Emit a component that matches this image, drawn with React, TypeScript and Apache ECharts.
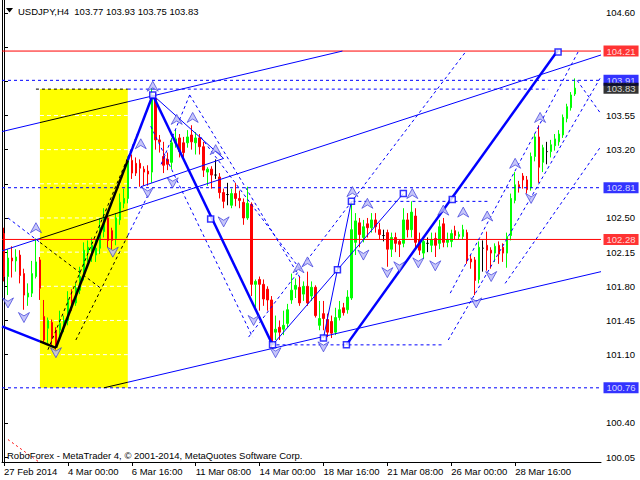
import React, { useEffect, useRef } from "react";
import * as echarts from "echarts";

// ---------- data ----------
const tickLabels = ["27 Feb 2014", "4 Mar 00:00", "6 Mar 16:00", "11 Mar 08:00", "14 Mar 00:00", "18 Mar 16:00", "21 Mar 08:00", "26 Mar 00:00", "28 Mar 16:00"];
const priceTicks = [100.05, 100.4, 100.75, 101.1, 101.45, 101.8, 102.15, 102.5, 102.85, 103.2, 103.55, 103.9, 104.25, 104.6];
// tick labels that the price boxes cover
const hiddenTickLabels = [100.75, 102.85, 103.9, 104.25];
const SLOTS = 150;
const LABEL_EVERY = 16;

// [open, high, low, close]
const candles: number[][] = [
  [102.34, 102.40, 101.85, 101.90], [101.90, 102.18, 101.71, 102.09], [102.09, 102.21, 101.89, 102.06], [102.06, 102.18, 101.95, 102.10],
  [102.12, 102.17, 101.83, 101.91], [101.93, 101.98, 101.56, 101.71], [101.69, 101.83, 101.60, 101.73], [101.73, 102.06, 101.69, 101.93],
  [101.90, 102.29, 101.88, 102.05], [102.07, 102.10, 101.66, 101.78], [101.49, 101.66, 101.22, 101.25], [101.37, 101.48, 101.22, 101.45],
  [101.43, 101.46, 101.20, 101.27], [101.35, 101.38, 101.15, 101.18], [101.35, 101.55, 101.28, 101.42], [101.38, 101.50, 101.33, 101.45],
  [101.45, 101.75, 101.40, 101.66], [101.66, 101.77, 101.55, 101.60], [101.63, 101.83, 101.60, 101.78], [101.76, 102.00, 101.72, 101.90],
  [101.90, 102.25, 101.86, 102.17], [102.15, 102.27, 102.05, 102.20], [102.12, 102.30, 102.05, 102.22], [102.12, 102.28, 102.05, 102.19],
  [102.19, 102.50, 102.13, 102.40], [102.36, 102.60, 102.30, 102.51], [102.50, 102.56, 102.20, 102.27], [102.37, 102.40, 102.18, 102.27],
  [102.29, 102.55, 102.22, 102.50], [102.48, 102.75, 102.43, 102.66], [102.65, 102.80, 102.60, 102.70], [102.70, 103.13, 102.65, 103.09],
  [103.09, 103.15, 102.90, 102.96], [103.06, 103.12, 102.93, 102.96], [103.06, 103.10, 102.82, 103.01], [103.00, 103.03, 102.83, 102.97],
  [102.98, 103.04, 102.83, 102.95], [102.97, 103.83, 102.86, 103.73], [103.72, 103.78, 103.20, 103.30], [103.30, 103.35, 103.17, 103.28],
  [103.13, 103.28, 102.96, 103.04], [103.10, 103.17, 102.99, 103.05], [103.07, 103.32, 103.00, 103.27], [103.27, 103.40, 103.22, 103.31],
  [103.32, 103.36, 103.12, 103.18], [103.27, 103.33, 103.10, 103.17], [103.27, 103.40, 103.22, 103.33], [103.35, 103.45, 103.20, 103.28],
  [103.27, 103.38, 103.15, 103.32], [103.32, 103.36, 103.15, 103.23], [103.23, 103.28, 102.92, 102.99], [102.97, 103.02, 102.83, 103.00],
  [103.00, 103.03, 102.80, 102.94], [102.94, 103.10, 102.90, 102.94], [102.92, 102.96, 102.70, 102.76], [102.76, 102.80, 102.60, 102.67],
  [102.74, 102.86, 102.63, 102.74], [102.63, 102.80, 102.60, 102.75], [102.75, 102.86, 102.62, 102.70], [102.70, 102.78, 102.60, 102.68],
  [102.66, 102.70, 102.43, 102.50], [102.50, 102.82, 102.48, 102.65], [102.64, 102.66, 101.70, 101.82], [101.82, 101.87, 101.58, 101.85],
  [101.87, 101.90, 101.55, 101.82], [101.82, 101.87, 101.60, 101.67], [101.77, 101.80, 101.55, 101.66], [101.66, 101.70, 101.17, 101.23],
  [101.33, 101.50, 101.25, 101.36], [101.38, 101.45, 101.25, 101.33], [101.36, 101.55, 101.30, 101.40], [101.42, 101.62, 101.38, 101.56],
  [101.66, 101.93, 101.62, 101.76], [101.77, 101.88, 101.68, 101.81], [101.79, 101.90, 101.60, 101.63], [101.72, 101.85, 101.65, 101.80],
  [101.80, 101.95, 101.60, 101.63], [101.70, 101.85, 101.65, 101.79], [101.79, 101.81, 101.48, 101.50], [101.40, 101.65, 101.35, 101.47],
  [101.52, 101.65, 101.35, 101.47], [101.46, 101.52, 101.28, 101.33], [101.44, 101.50, 101.27, 101.32], [101.33, 101.58, 101.30, 101.48],
  [101.48, 101.65, 101.45, 101.56], [101.58, 101.63, 101.50, 101.53], [101.56, 101.76, 101.52, 101.69], [101.68, 102.67, 101.66, 102.38],
  [102.25, 102.55, 102.12, 102.47], [102.45, 102.50, 102.20, 102.33], [102.30, 102.48, 102.25, 102.41], [102.44, 102.50, 102.30, 102.40],
  [102.40, 102.55, 102.35, 102.48], [102.48, 102.55, 102.35, 102.41], [102.38, 102.45, 102.28, 102.33], [102.32, 102.38, 102.26, 102.32],
  [102.35, 102.38, 102.00, 102.18], [102.18, 102.35, 102.10, 102.30], [102.30, 102.35, 102.15, 102.24], [102.26, 102.28, 102.10, 102.23],
  [102.24, 102.60, 102.20, 102.48], [102.48, 102.55, 102.30, 102.38], [102.38, 102.67, 102.30, 102.56], [102.52, 102.60, 102.18, 102.25],
  [102.28, 102.35, 102.12, 102.17], [102.14, 102.30, 102.08, 102.26], [102.24, 102.30, 102.15, 102.24], [102.22, 102.35, 102.15, 102.28],
  [102.29, 102.35, 102.10, 102.22], [102.24, 102.48, 102.18, 102.41], [102.44, 102.50, 102.20, 102.25], [102.25, 102.35, 102.20, 102.28],
  [102.26, 102.38, 102.20, 102.34], [102.37, 102.42, 102.28, 102.32], [102.31, 102.36, 102.28, 102.33], [102.31, 102.43, 102.28, 102.38],
  [102.35, 102.38, 102.03, 102.07], [102.08, 102.12, 101.98, 102.05], [102.07, 102.10, 101.71, 101.86], [101.87, 102.26, 101.83, 102.20],
  [102.19, 102.27, 101.95, 102.19], [102.22, 102.36, 101.96, 102.17], [102.17, 102.20, 101.98, 102.14], [102.14, 102.24, 102.05, 102.21],
  [102.22, 102.26, 102.03, 102.13], [102.20, 102.24, 102.05, 102.14], [102.14, 102.35, 101.99, 102.31], [102.32, 102.75, 102.27, 102.70],
  [102.68, 102.97, 102.65, 102.84], [102.84, 102.88, 102.76, 102.81], [102.93, 102.96, 102.80, 102.89], [102.89, 102.93, 102.75, 102.79],
  [102.81, 103.17, 102.78, 103.13], [103.13, 103.36, 103.08, 103.33], [103.33, 103.45, 102.86, 103.02], [103.07, 103.25, 102.97, 103.22],
  [103.18, 103.28, 103.05, 103.18], [103.18, 103.30, 103.12, 103.25], [103.24, 103.36, 103.19, 103.31], [103.28, 103.40, 103.24, 103.36],
  [103.35, 103.56, 103.32, 103.53], [103.52, 103.67, 103.48, 103.64], [103.63, 103.79, 103.60, 103.76], [103.77, 103.93, 103.75, 103.83],
];

const redLevels = [104.21, 102.28];
const blueLevels = [103.91, 102.81, 100.76];
const lastPrice = 103.83;

// highlighted box: [fromBar, toBar, low, high]
const yellowBox = [9, 31, 100.76, 103.82];

// horizontal dashed segments: [fromBar, toBar, price]
const blueHorizontals = [
  [31, 136.25, 103.82],
  [87.25, 121.75, 102.67],
  [66.75, 110, 101.2],
];
const blackHorizontals = [[8, 31, 103.82]];

// trend lines as [[bar, price], [bar, price]]
const thickBlue = [
  [[-0.5, 101.39], [9, 101.235]],
  [[31, 103.09], [37.25, 103.76]],
  [[37.25, 103.76], [67.25, 101.2]],
  [[85.75, 101.2], [138.75, 104.22]],
];
const thickBlack = [
  [[9, 101.235], [13, 101.17]],
  [[13, 101.17], [31, 103.09]],
];
const thinBlue = [
  [[-0.5, 103.385], [9, 103.477]],
  [[31, 103.69], [84.75, 104.21]],
  [[-0.5, 102.163], [9, 102.29]],
  [[31, 102.585], [149.5, 104.17]],
  [[31, 100.817], [149.5, 101.95]],
  [[34.25, 102.82], [55, 103.11]],
  [[37.25, 103.76], [55, 103.11]],
  [[80, 101.27], [87, 102.67]],
  [[67.25, 101.2], [100, 102.75]],
];
const thinBlack = [
  [[9, 103.477], [31, 103.69]],
  [[9, 102.29], [31, 102.585]],
  [[25, 100.76], [31, 100.817]],
];
const dashedBlue = [
  [[1, 102.5], [9, 102.25]],
  [[31, 103.12], [33.5, 103.37]],
  [[31, 102.32], [36.75, 102.79]],
  [[46.5, 103.76], [74.25, 101.88]],
  [[46.5, 103.76], [39.25, 103.04]],
  [[36.75, 103.44], [62.25, 101.28]],
  [[49.25, 103.33], [74.25, 101.97]],
  [[61.25, 101.28], [115.75, 104.21]],
  [[111.25, 101.25], [149.25, 103.93]],
  [[111.75, 101.73], [143.75, 104.2]],
  [[125.5, 101.83], [149.25, 103.22]],
  [[143.5, 103.91], [149.25, 103.58]],
];
const dashedBlack = [
  [[9, 102.25], [24.25, 101.78]],
  [[11, 101.15], [31, 103.12]],
  [[18, 101.25], [31, 102.32]],
];
const dashedRed = [[[1, 100.23], [8.75, 100.0]]];

const anchorPoints = [
  [37.25, 103.76], [51.75, 102.49], [67.25, 101.2], [80, 101.27], [83.5, 101.97], [87, 102.67],
  [85.75, 101.2], [100, 102.75], [112.25, 102.69], [138.75, 104.2],
];
const fractalsUp = [
  [8, 102.4], [34.25, 103.26], [37.25, 103.85], [43.25, 103.51], [47.25, 103.53], [53, 103.2],
  [73.75, 101.99], [76, 102.05], [87.25, 102.77], [91, 102.65], [102.25, 102.75], [110, 102.58],
  [115, 102.56], [121, 102.52], [128, 103.06], [134.25, 103.53],
];
const fractalsDown = [
  [1, 101.63], [5, 101.48], [13, 101.12], [27.25, 102.15], [36, 102.76], [42.25, 102.86],
  [55, 102.46], [62.5, 101.45], [68, 101.12], [80, 101.18], [90, 102.12], [96, 101.94],
  [99, 102.0], [103.75, 102.04], [108, 102.01], [118.25, 101.63], [122, 101.9], [132, 102.7],
];

const titleText = "USDJPY,H4  103.77 103.93 103.75 103.83";
const footerText = "RoboForex - MetaTrader 4, \u00a9 2001-2014, MetaQuotes Software Corp.";

// ---------- chart ----------
const FONT = "Liberation Sans";
const FS = 9.5;
const Y_MIN = 100.0;
const Y_MAX = 104.733;
const X_MIN = -0.5;
const X_MAX = SLOTS - 0.5;

function segSeries(name: string, segs: number[][][], color: string, width: number, type: any, z: number) {
  return {
    name,
    type: "lines",
    coordinateSystem: "cartesian2d",
    xAxisIndex: 1,
    yAxisIndex: 0,
    polyline: false,
    silent: true,
    z,
    lineStyle: { color, width, type, opacity: 1 },
    data: segs.map((s) => ({ coords: s })),
  };
}

function hSeries(name: string, from: number, to: number, price: number, color: string, type: any, z: number) {
  return {
    name,
    type: "line",
    xAxisIndex: 1,
    yAxisIndex: 0,
    symbol: "none",
    silent: true,
    z,
    color,
    lineStyle: { color, width: 1, type, opacity: 1 },
    data: [[from, price], [to, price]],
  };
}

export default function App() {
  const ref = useRef<HTMLDivElement>(null);
  useEffect(() => {
    if (!ref.current) return;
    const chart = echarts.init(ref.current, undefined, { renderer: "svg" });
    const categories = Array.from({ length: SLOTS }, (_, i) => String(i));
    const candleData = candles.map(([o, h, l, c]) => {
      if (o === c) {
        return {
          value: [o, c, l, h],
          itemStyle: { color: "#000", color0: "#000", borderColor: "#000", borderColor0: "#000" },
        };
      }
      return [o, c, l, h];
    });
    const showTick = (i: number) => i % LABEL_EVERY === 0 && i / LABEL_EVERY < tickLabels.length;
    const gridInBox = priceTicks.filter((p) => p > yellowBox[2] && p < yellowBox[3]);
    const labelValues = priceTicks.filter((p) => !hiddenTickLabels.includes(p));

    const priceBox = (price: number, color: string) => ({
      value: [X_MAX, price],
      label: {
        show: true,
        position: "right",
        distance: 2,
        formatter: price.toFixed(2),
        color: "#fff",
        backgroundColor: color,
        lineHeight: 8,
        padding: [2, 3, 1, 3],
        fontSize: FS,
        fontFamily: FONT,
      },
    });

    const horizontals = [
      ...gridInBox.map((p, k) => hSeries("grid" + k, yellowBox[0], yellowBox[1], p, "#ffffff", [4, 3], 1.5)),
      ...redLevels.map((p, k) => hSeries("red" + k, X_MIN, X_MAX, p, "#ff0000", "solid", 2.5)),
      ...blueLevels.map((p, k) => hSeries("blue" + k, X_MIN, X_MAX, p, "#0000ff", [3, 3], 2.5)),
      ...blueHorizontals.map(([a, b, p], k) => hSeries("bh" + k, a, b, p, "#0000ff", [3, 3], 3)),
      ...blackHorizontals.map(([a, b, p], k) => hSeries("kh" + k, a, b, p, "#000000", [3, 3], 3)),
    ];

    const option: any = {
      animation: false,
      backgroundColor: "#ffffff",
      textStyle: { fontFamily: FONT },
      grid: { left: 2, right: 39, top: 0, bottom: 18, containLabel: false },
      xAxis: [
        {
          type: "category",
          data: categories,
          boundaryGap: true,
          axisLine: { show: true, lineStyle: { color: "#000", width: 1 } },
          axisTick: { show: true, interval: (i: number) => showTick(i), alignWithLabel: true, length: 4, lineStyle: { color: "#000" } },
          axisLabel: {
            show: true,
            interval: (i: number) => showTick(i),
            formatter: (_v: string, i: number) => tickLabels[i / LABEL_EVERY] ?? "",
            align: "left",
            margin: 4,
            color: "#000",
            fontSize: FS,
            fontFamily: FONT,
          },
          splitLine: { show: false },
        },
        { type: "value", min: X_MIN, max: X_MAX, show: false },
      ],
      yAxis: [
        {
          type: "value",
          position: "right",
          min: Y_MIN,
          max: Y_MAX,
          axisLine: { show: true, lineStyle: { color: "#000", width: 1 } },
          axisTick: { show: true, customValues: priceTicks, length: 4, lineStyle: { color: "#000" } },
          axisLabel: {
            show: true,
            customValues: labelValues,
            formatter: (v: number) => v.toFixed(2),
            margin: 5,
            color: "#000",
            fontSize: FS,
            fontFamily: FONT,
          },
          splitLine: { show: false },
        },
        {
          type: "value",
          position: "left",
          min: Y_MIN,
          max: Y_MAX,
          axisLine: { show: true, lineStyle: { color: "#000", width: 1 } },
          axisTick: { show: false },
          axisLabel: { show: false },
          splitLine: { show: false },
        },
      ],
      series: [
        {
          name: "box",
          type: "line",
          xAxisIndex: 1,
          yAxisIndex: 0,
          data: [[yellowBox[0], yellowBox[2]], [yellowBox[1], yellowBox[2]]],
          symbol: "none",
          lineStyle: { opacity: 0 },
          silent: true,
          z: 1,
          markArea: {
            silent: true,
            itemStyle: { color: "#ffff00" },
            data: [[{ coord: [yellowBox[0], yellowBox[2]] }, { coord: [yellowBox[1], yellowBox[3]] }]],
          },
        },
        {
          name: "USDJPY",
          type: "candlestick",
          xAxisIndex: 0,
          yAxisIndex: 0,
          data: candleData,
          barWidth: 2,
          z: 2,
          itemStyle: { color: "#00ff00", color0: "#ff0000", borderColor: "#00ff00", borderColor0: "#ff0000", borderWidth: 1 },
        },
        ...horizontals,
        segSeries("dashedBlue", dashedBlue, "#0000ff", 1, [3, 3], 3),
        segSeries("dashedBlack", dashedBlack, "#000000", 1, [3, 3], 3),
        segSeries("dashedRed", dashedRed, "#ff0000", 1, [2, 3], 3),
        segSeries("thinBlue", thinBlue, "#0000ff", 1, "solid", 3),
        segSeries("thinBlack", thinBlack, "#000000", 1, "solid", 3),
        segSeries("thickBlue", thickBlue, "#0000ff", 2.5, "solid", 3),
        segSeries("thickBlack", thickBlack, "#000000", 2.5, "solid", 3),
        {
          name: "anchors",
          type: "scatter",
          xAxisIndex: 1,
          yAxisIndex: 0,
          data: anchorPoints,
          symbol: "rect",
          symbolSize: 6,
          silent: true,
          z: 4,
          itemStyle: { color: "#ffffff", borderColor: "#0000ff", borderWidth: 1.5 },
        },
        {
          name: "fractalUp",
          type: "scatter",
          xAxisIndex: 1,
          yAxisIndex: 0,
          data: fractalsUp,
          symbol: "path://M6,0 L12,12 L6,8 L0,12 Z",
          symbolSize: [11, 10],
          silent: true,
          z: 4,
          itemStyle: { color: "#b8b8f8", borderColor: "#2a2ad8", borderWidth: 0.8 },
        },
        {
          name: "fractalDown",
          type: "scatter",
          xAxisIndex: 1,
          yAxisIndex: 0,
          data: fractalsDown,
          symbol: "path://M0,0 L6,4 L12,0 L6,12 Z",
          symbolSize: [11, 10],
          silent: true,
          z: 4,
          itemStyle: { color: "#b8b8f8", borderColor: "#2a2ad8", borderWidth: 0.8 },
        },
        {
          name: "priceBoxes",
          type: "scatter",
          xAxisIndex: 1,
          yAxisIndex: 0,
          symbol: "circle",
          symbolSize: 1,
          clip: false,
          silent: true,
          z: 6,
          itemStyle: { color: "rgba(0,0,0,0)" },
          data: [
            ...redLevels.map((p) => priceBox(p, "#ff0000")),
            ...blueLevels.map((p) => priceBox(p, "#0000ff")),
            priceBox(lastPrice, "#000000"),
          ],
        },
      ],
      graphic: [
        { type: "polygon", shape: { points: [[6, 8], [13, 8], [9.5, 12.5]] }, style: { fill: "#000" }, z: 10 },
        {
          type: "text",
          x: 18,
          y: 11,
          z: 10,
          style: { text: titleText, fill: "#000", fontSize: FS, fontFamily: FONT, verticalAlign: "middle" },
        },
        {
          type: "text",
          x: 7,
          y: 455,
          z: 10,
          style: { text: footerText, fill: "#000", fontSize: FS, fontFamily: FONT, verticalAlign: "middle" },
        },
      ],
    };
    chart.setOption(option);
    return () => chart.dispose();
  }, []);
  return <div ref={ref} style={{ width: 640, height: 480, position: "absolute", left: 0, top: 0, background: "#fff" }} />;
}
